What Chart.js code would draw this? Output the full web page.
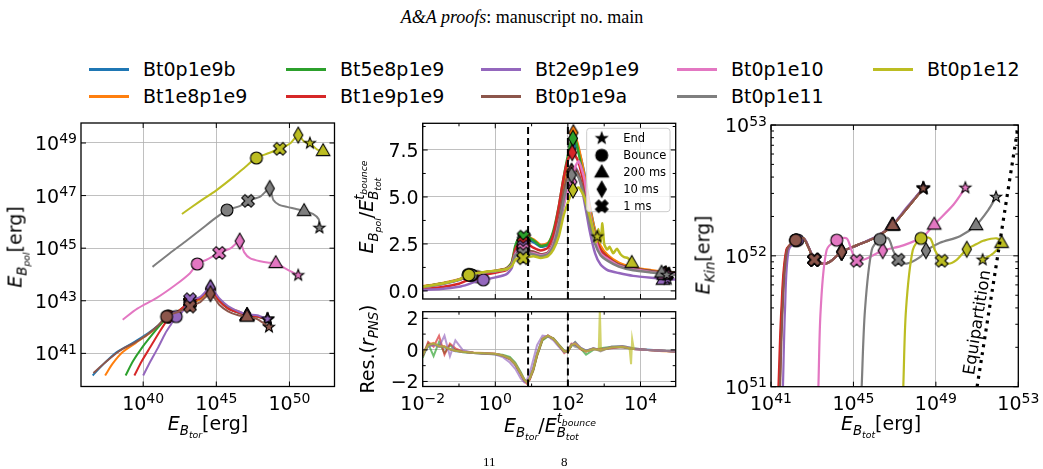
<!DOCTYPE html>
<html>
<head>
<meta charset="utf-8">
<script src="https://cdn.jsdelivr.net/npm/chart.js@4.4.1/dist/chart.umd.min.js"></script>
<style>
html, body { margin: 0; padding: 0; background: #fff; overflow: hidden; }
#wrap { position: relative; width: 1043px; height: 469px; font-family: "DejaVu Sans", sans-serif; color: #000; }
canvas { position: absolute; left: 0; top: 0; }
.t { position: absolute; white-space: nowrap; font-size: 19px; line-height: 1; transform: translate(-50%, -50%); z-index: 5; }
.t.r { transform: translate(-50%, -50%) rotate(-90deg); }
.t sub { font-size: 70%; vertical-align: -0.35em; line-height: 0; }
.ss { display: inline-block; vertical-align: -0.35em; font-size: 70%; line-height: 1.05; }
.ss > span { display: block; }
.ss sub { font-size: 70%; }
.head { position: absolute; left: 522px; top: 17px; transform: translate(-50%, -50%); font-family: "Liberation Serif", serif; font-size: 18px; white-space: nowrap; }
.leg { position: absolute; font-size: 19px; white-space: nowrap; line-height: 1; }
.foot { position: absolute; font-family: "Liberation Serif", serif; font-size: 13px; line-height: 1; }
</style>
</head>
<body>
<div id="wrap">
  <div class="head"><i>A&amp;A proofs</i>: manuscript no. main</div>
  <div id="legend"></div>
  <canvas id="cLeft" width="1043" height="469"></canvas>
  <canvas id="cMid" width="1043" height="469"></canvas>
  <canvas id="cRes" width="1043" height="469"></canvas>
  <canvas id="cRight" width="1043" height="469"></canvas>

  <div class="t r" style="left:16px;top:247px"><i>E</i><sub><i>B</i><sub><i>pol</i></sub></sub>[erg]</div>
  <div class="t" style="left:208px;top:424px"><i>E</i><sub><i>B</i><sub><i>tor</i></sub></sub>[erg]</div>
  <div class="t r" style="left:367px;top:207px"><i>E</i><sub><i>B</i><sub><i>pol</i></sub></sub>/<i>E</i><span class="ss"><span><i>t</i><sub><i>bounce</i></sub></span><span><i>B</i><sub><i>tot</i></sub></span></span></div>
  <div class="t r" style="left:367px;top:349px">Res.(<i>r</i><sub><i>PNS</i></sub>)</div>
  <div class="t" style="left:550px;top:426px"><i>E</i><sub><i>B</i><sub><i>tor</i></sub></sub>/<i>E</i><span class="ss"><span><i>t</i><sub><i>bounce</i></sub></span><span><i>B</i><sub><i>tot</i></sub></span></span></div>
  <div class="t r" style="left:703px;top:255px"><i>E</i><sub><i>Kin</i></sub>[erg]</div>
  <div class="t" style="left:881px;top:424px"><i>E</i><sub><i>B</i><sub><i>tot</i></sub></sub>[erg]</div>

  <div class="foot" style="left:483px;top:455px">11</div>
  <div class="foot" style="left:561px;top:455px">8</div>
</div>
<script>
// Series
const seriesNames = ['Bt0p1e9b', 'Bt1e8p1e9', 'Bt5e8p1e9', 'Bt1e9p1e9', 'Bt2e9p1e9', 'Bt0p1e9a', 'Bt0p1e10', 'Bt0p1e11', 'Bt0p1e12'];
const seriesColors = ['#1f77b4', '#ff7f0e', '#2ca02c', '#d62728', '#9467bd', '#8c564b', '#e377c2', '#7f7f7f', '#bcbd22'];

// marker points in every "Marks" array are ordered: bounce, 1 ms, 10 ms, 200 ms, end
const markShapes = ['circle', 'x', 'diamond', 'triangle', 'star'];
const markerLabels = ['End', 'Bounce', '200 ms', '10 ms', '1 ms'];
const markerLegendShapes = ['star', 'circle', 'triangle', 'diamond', 'x'];

// Left panel: log10 E_Btor, log10 E_Bpol
const leftCurves = [
  [[36.55,40.16],[37.3,40.6],[38.2,41.05],[39.3,41.4],[40.3,41.75],[41.0,42.05],[41.7,42.4],[42.5,42.62],[43.2,42.9],[43.9,43.05],[44.6,43.38],[45.2,43.0],[45.8,42.72],[46.5,42.55],[47.1,42.45],[47.8,42.4],[48.5,42.3]],
  [[37.4,40.16],[37.9,40.6],[38.6,41.05],[39.5,41.4],[40.4,41.75],[41.1,42.05],[41.7,42.4],[42.5,42.6],[43.2,42.88],[43.9,43.05],[44.6,43.4],[45.2,43.0],[45.8,42.75],[46.5,42.6],[47.1,42.45],[47.8,42.4],[48.5,42.3]],
  [[38.8,40.16],[39.3,40.7],[39.9,41.2],[40.6,41.7],[41.2,42.1],[41.7,42.4],[42.5,42.65],[43.2,42.95],[43.9,43.1],[44.6,43.45],[45.2,43.02],[45.8,42.72],[46.5,42.55],[47.1,42.45],[47.8,42.4],[48.5,42.3]],
  [[39.4,40.16],[39.9,40.7],[40.5,41.25],[41.1,41.8],[41.5,42.15],[41.8,42.4],[42.5,42.65],[43.2,42.95],[43.9,43.1],[44.6,43.45],[45.2,43.0],[45.8,42.7],[46.5,42.55],[47.1,42.45],[47.8,42.4],[48.5,42.3]],
  [[40.0,40.16],[40.5,40.7],[41.0,41.2],[41.5,41.75],[41.9,42.1],[42.26,42.4],[42.7,42.6],[43.2,43.02],[43.9,43.15],[44.6,43.5],[45.2,43.1],[45.8,42.8],[46.5,42.6],[47.1,42.48],[47.8,42.45],[48.5,42.3]],
  [[36.6,40.25],[37.5,40.7],[38.4,41.1],[39.4,41.4],[40.25,41.7],[41.0,42.05],[41.6,42.4],[42.5,42.6],[43.2,42.78],[43.9,42.95],[44.6,43.27],[45.2,42.85],[45.8,42.6],[46.5,42.45],[47.1,42.4],[47.8,42.3],[48.6,42.0]],
  [[38.6,42.28],[39.6,42.7],[40.9,43.1],[42.2,43.6],[43.2,44.05],[43.7,44.4],[44.3,44.55],[45.2,44.82],[46.0,45.0],[46.6,45.27],[46.9,44.85],[47.3,44.62],[48.0,44.5],[48.6,44.45],[49.06,44.44],[49.8,44.2],[50.6,43.97]],
  [[40.64,44.29],[41.8,44.8],[43.0,45.3],[43.9,45.69],[44.6,46.0],[45.05,46.19],[45.73,46.45],[46.6,46.6],[47.17,46.8],[48.0,46.96],[48.65,47.27],[48.9,46.83],[49.3,46.65],[49.84,46.57],[50.4,46.5],[51.0,46.42],[51.6,46.3],[52.0,46.1],[52.05,45.77]],
  [[42.65,46.3],[43.8,46.75],[45.0,47.2],[46.2,47.72],[47.0,48.1],[47.74,48.43],[48.5,48.6],[49.34,48.78],[50.07,48.99],[50.6,49.3],[51.0,49.05],[51.4,48.99],[51.9,48.75],[52.3,48.7]]
];
const leftMarks = [
  [[41.7,42.4],[43.2,42.95],[44.6,43.4],[47.1,42.45],[48.5,42.3]],
  [[41.7,42.4],[43.2,42.9],[44.6,43.4],[47.1,42.45],[48.5,42.3]],
  [[41.7,42.4],[43.2,42.95],[44.6,43.45],[47.1,42.45],[48.5,42.3]],
  [[41.8,42.4],[43.2,42.95],[44.6,43.45],[47.1,42.45],[48.5,42.3]],
  [[42.26,42.4],[43.2,43.06],[44.6,43.5],[47.1,42.45],[48.5,42.3]],
  [[41.6,42.4],[43.2,42.78],[44.6,43.27],[47.1,42.4],[48.6,42.0]],
  [[43.7,44.4],[45.2,44.82],[46.6,45.27],[49.06,44.44],[50.6,43.97]],
  [[45.73,46.45],[47.17,46.8],[48.65,47.27],[51.0,46.42],[52.05,45.77]],
  [[47.74,48.43],[49.34,48.78],[50.6,49.3],[52.3,48.7],[51.4,48.99]]
];

// Middle top panel: log10 of E_Btor / E_Btot(bounce), ratio E_Bpol / E_Btot(bounce)
const midX = [-2, -1.5, -1, -0.75, -0.5, -0.25, 0, 0.3, 0.45, 0.55, 0.65, 0.78, 0.9, 1.05, 1.25, 1.45, 1.6, 1.75, 1.88, 2.0, 2.1, 2.2, 2.3, 2.45, 2.6, 2.75, 2.9, 3.1, 3.4, 3.8, 4.3, 4.8, 5.0];
const midY = [
  [0.2,0.35,0.58,0.78,0.92,1.0,1.05,1.18,1.45,2.2,2.6,2.7,2.72,2.6,2.35,2.45,3.0,4.1,5.5,6.9,7.7,8.0,7.5,6.3,4.6,3.2,2.3,1.85,1.45,1.2,1.05,0.92,0.9],
  [0.25,0.4,0.62,0.82,0.95,1.02,1.08,1.2,1.5,2.3,2.7,2.85,2.85,2.75,2.45,2.55,3.1,4.2,5.6,7.0,8.0,8.2,7.6,6.2,4.5,3.2,2.4,1.9,1.5,1.25,1.1,0.98,0.95],
  [0.22,0.38,0.6,0.8,0.93,1.0,1.06,1.18,1.5,2.4,2.8,2.9,2.85,2.7,2.4,2.5,3.2,4.5,6.0,7.2,8.0,8.1,7.3,5.8,4.2,3.0,2.2,1.8,1.4,1.2,1.05,0.92,0.9],
  [0.1,0.2,0.38,0.58,0.76,0.88,0.97,1.1,1.4,2.2,2.5,2.55,2.5,2.3,2.15,2.3,3.0,4.5,6.0,7.0,7.3,7.2,6.8,5.6,4.0,2.9,2.2,1.8,1.4,1.2,1.05,0.92,0.9],
  [0.05,0.1,0.22,0.35,0.52,0.62,0.72,0.88,1.2,2.0,2.25,2.36,2.2,1.95,1.85,2.0,2.4,3.3,4.5,5.5,6.2,6.6,6.2,4.8,3.2,2.0,1.4,1.1,0.95,0.8,0.7,0.62,0.6],
  [0.22,0.38,0.6,0.8,0.93,1.0,1.06,1.18,1.4,2.0,2.1,2.1,2.1,2.1,1.95,2.05,2.6,3.8,5.2,6.2,6.5,6.5,6.2,5.2,3.8,2.6,2.0,1.7,1.4,1.2,1.05,0.92,0.9],
  [0.2,0.36,0.6,0.8,0.92,1.0,1.05,1.15,1.4,1.95,2.15,2.2,2.05,2.0,1.9,2.0,2.5,3.6,4.6,5.3,5.8,6.6,6.9,6.0,4.2,2.8,2.0,1.7,1.35,1.15,1.0,0.9,0.88],
  [0.2,0.36,0.6,0.8,0.92,1.0,1.05,1.15,1.35,1.9,2.0,2.0,2.0,1.95,1.85,1.95,2.4,3.5,4.8,5.8,6.2,6.3,6.0,5.0,3.6,2.5,1.9,1.6,1.3,1.1,0.98,0.88,0.85]
];
const midOliveX = [-2,-1.5,-1,-0.75,-0.5,-0.25,0,0.3,0.45,0.55,0.65,0.78,0.9,1.05,1.25,1.45,1.6,1.75,1.88,2.0,2.1,2.2,2.3,2.45,2.6,2.7,2.78,2.84,2.9,2.95,3.0,3.08,3.15,3.25,3.35,3.45,3.55,3.65,3.76];
const midOliveY = [0.22,0.38,0.6,0.85,0.95,1.02,1.07,1.15,1.3,1.65,1.75,1.75,1.8,1.85,1.75,1.85,2.2,2.9,4.0,4.7,5.2,5.4,5.5,5.0,4.0,3.2,2.6,3.3,2.6,3.6,2.5,2.2,2.35,2.0,2.25,1.95,1.8,1.75,1.5];
const midMarks = [
  [[-0.72,0.86],[0.78,2.68],[2.13,7.7],[4.68,0.9],[4.78,0.9]],
  [[-0.73,0.86],[0.8,2.8],[2.15,8.42],[4.7,0.95],[4.8,0.92]],
  [[-0.75,0.86],[0.78,2.89],[2.14,8.12],[4.68,0.92],[4.78,0.9]],
  [[-0.5,0.76],[0.77,2.54],[2.12,7.36],[4.68,0.9],[4.78,0.9]],
  [[-0.33,0.59],[0.77,2.36],[2.1,6.35],[4.62,0.6],[4.75,0.62]],
  [[-0.65,0.84],[0.77,2.1],[2.1,6.35],[4.66,0.88],[4.78,0.9]],
  [[-0.68,0.85],[0.77,2.2],[2.12,5.8],[4.64,0.88],[4.76,0.88]],
  [[-0.66,0.85],[0.77,2.0],[2.1,6.17],[4.58,0.98],[4.72,0.85]],
  [[-0.73,0.85],[0.77,1.74],[2.14,5.37],[3.76,1.5],[2.81,2.89]]
];
const dashX = [8, 100];

// Middle bottom panel: residuals in r_PNS
const resX = [-2,-1.85,-1.7,-1.55,-1.4,-1.25,-1.1,-0.9,-0.6,-0.3,0,0.2,0.4,0.55,0.7,0.8,0.87,0.95,1.05,1.15,1.3,1.45,1.6,1.75,1.9,2.0,2.1,2.2,2.35,2.5,2.7,2.9,3.2,3.5,3.8,4.2,4.6,5.0];
const resY = [
  [-0.35,0.25,0.35,0.3,0.15,0.05,-0.08,-0.12,-0.18,-0.22,-0.26,-0.36,-0.58,-0.95,-1.55,-1.95,-2.05,-1.75,-1.1,-0.2,0.72,0.9,0.68,0.28,-0.1,-0.12,0.35,0.3,0.12,-0.05,0.08,0.02,0.12,0.18,0.05,0.02,-0.05,-0.1],
  [-0.25,0.35,0.45,0.2,0.25,0.02,-0.05,-0.1,-0.16,-0.2,-0.24,-0.33,-0.52,-0.88,-1.48,-1.9,-2.0,-1.8,-1.2,-0.35,0.65,0.88,0.72,0.32,-0.08,-0.15,0.3,0.45,0.05,-0.1,0.1,-0.05,0.18,0.15,0.08,0.0,-0.08,-0.12],
  [-0.5,0.4,-0.4,0.5,-0.2,0.3,0.0,-0.15,-0.2,-0.24,-0.28,-0.3,-0.45,-0.8,-1.4,-1.85,-2.05,-1.85,-1.3,-0.4,0.6,0.85,0.75,0.35,-0.05,-0.1,0.25,0.5,0.1,-0.3,0.0,0.1,0.2,0.25,0.1,0.0,-0.05,-0.1],
  [-0.4,0.5,0.2,0.9,-0.3,0.4,0.1,-0.1,-0.2,-0.22,-0.26,-0.38,-0.6,-0.95,-1.55,-2.0,-2.15,-1.9,-1.25,-0.35,0.68,0.92,0.7,0.3,-0.2,-0.05,0.4,0.35,0.05,-0.1,0.05,0.05,0.1,0.2,0.05,0.0,-0.05,-0.1],
  [-0.3,0.2,0.3,0.2,0.9,-0.4,0.6,0.0,-0.2,-0.25,-0.3,-0.45,-0.8,-1.2,-1.8,-2.05,-1.9,-1.45,-0.6,0.3,0.9,0.85,0.6,0.2,-0.15,-0.1,0.3,0.5,0.15,-0.05,0.1,0.0,0.2,0.25,0.1,0.0,-0.05,-0.1],
  [-0.3,0.3,0.4,0.25,0.2,0.05,-0.05,-0.12,-0.18,-0.22,-0.25,-0.35,-0.55,-0.9,-1.5,-1.9,-2.05,-1.8,-1.2,-0.3,0.7,0.9,0.7,0.3,-0.1,-0.1,0.3,0.4,0.1,-0.1,0.05,0.0,0.15,0.2,0.05,0.0,-0.05,-0.1],
  [-0.3,0.3,0.4,0.25,0.2,0.05,-0.05,-0.12,-0.18,-0.22,-0.25,-0.35,-0.55,-0.9,-1.5,-1.9,-2.05,-1.8,-1.15,-0.25,0.72,0.9,0.7,0.3,-0.1,-0.1,0.35,0.4,0.1,-0.1,0.05,0.0,0.15,0.2,0.05,0.0,-0.05,-0.1],
  [-0.28,0.32,0.38,0.22,0.18,0.04,-0.06,-0.13,-0.19,-0.23,-0.27,-0.37,-0.57,-0.92,-1.52,-1.92,-2.03,-1.78,-1.18,-0.28,0.7,0.88,0.7,0.3,-0.15,-0.1,0.35,0.2,0.1,-0.05,0.1,-0.1,0.2,0.15,0.05,0.0,-0.05,-0.1]
];
const resOliveX = [-2,-1.85,-1.7,-1.55,-1.4,-1.25,-1.1,-0.9,-0.6,-0.3,0,0.2,0.4,0.55,0.7,0.8,0.87,0.95,1.05,1.15,1.3,1.45,1.6,1.75,1.9,2.0,2.1,2.2,2.35,2.5,2.7,2.85,2.88,2.91,3.2,3.5,3.7,3.74,3.77,3.82];
const resOliveY = [-0.3,0.3,0.4,0.25,0.2,0.05,-0.05,-0.12,-0.18,-0.22,-0.25,-0.35,-0.55,-0.9,-1.5,-1.9,-2.05,-1.8,-1.2,-0.3,0.7,0.9,0.7,0.3,-0.1,-0.1,0.3,0.4,0.1,-0.1,0.05,0.0,2.6,0.0,0.15,0.2,0.1,-0.9,0.7,0.0];

// Right panel: log10 E_Btot, log10 E_Kin
const rightCurves = [
  [[41.40,50.9],[41.42,51.0],[41.54,51.586],[41.77,52.044],[42.22,52.12],[42.57,52.134],[42.81,52.07],[43.1,51.97],[43.46,51.94],[43.86,51.955],[44.43,52.03],[45.16,52.08],[46.13,52.146],[46.9,52.235],[47.58,52.36],[48.39,52.516]],
  [[41.40,50.9],[41.42,51.0],[41.54,51.586],[41.77,52.044],[42.22,52.12],[42.57,52.134],[42.81,52.07],[43.1,51.97],[43.46,51.94],[43.86,51.955],[44.43,52.03],[45.16,52.08],[46.13,52.146],[46.9,52.235],[47.58,52.36],[48.39,52.516]],
  [[41.38,50.9],[41.40,51.0],[41.53,51.586],[41.76,52.044],[42.21,52.12],[42.57,52.134],[42.81,52.07],[43.1,51.97],[43.46,51.94],[43.86,51.955],[44.43,52.03],[45.16,52.08],[46.13,52.146],[46.9,52.235],[47.58,52.36],[48.39,52.516]],
  [[41.33,50.9],[41.36,51.0],[41.5,51.586],[41.74,52.044],[42.2,52.12],[42.57,52.134],[42.81,52.07],[43.1,51.97],[43.46,51.94],[43.86,51.955],[44.43,52.03],[45.16,52.08],[46.13,52.146],[46.9,52.235],[47.58,52.36],[48.39,52.516]],
  [[41.56,50.9],[41.58,51.0],[41.68,51.586],[41.86,52.044],[42.3,52.12],[42.62,52.13],[42.85,52.06],[43.12,51.97],[43.46,51.94],[43.86,51.955],[44.43,52.03],[45.16,52.08],[46.13,52.15],[46.9,52.24],[47.58,52.37],[48.39,52.52]],
  [[41.42,50.9],[41.44,51.0],[41.56,51.586],[41.78,52.044],[42.2,52.12],[42.57,52.134],[42.81,52.07],[43.1,51.97],[43.46,51.94],[43.86,51.955],[44.43,52.03],[45.16,52.08],[46.13,52.146],[46.9,52.235],[47.58,52.36],[48.39,52.516]],
  [[43.28,50.9],[43.3,51.0],[43.41,51.586],[43.7,52.044],[44.19,52.12],[44.67,52.134],[44.91,52.04],[45.16,51.963],[45.64,51.98],[46.42,52.04],[47.42,52.08],[48.39,52.15],[48.92,52.24],[49.85,52.39],[50.43,52.52]],
  [[45.38,50.9],[45.4,51.0],[45.56,51.586],[45.89,52.044],[46.29,52.126],[46.69,52.134],[46.93,52.04],[47.18,51.97],[47.58,51.94],[48.23,51.99],[48.52,52.04],[49.2,52.1],[50.17,52.15],[50.95,52.235],[51.54,52.35],[51.92,52.45]],
  [[47.4,50.9],[47.42,51.0],[47.55,51.586],[47.88,52.044],[48.28,52.134],[48.72,52.134],[48.96,52.04],[49.28,51.963],[49.6,51.94],[50.01,51.97],[50.5,52.05],[50.98,52.09],[51.3,52.115],[51.95,52.134],[52.19,52.1],[51.79,52.02],[51.27,51.97]]
];
const rightMarks = [
  [[42.22,52.12],[43.1,51.97],[44.43,52.03],[46.9,52.235],[48.39,52.516]],
  [[42.22,52.12],[43.1,51.97],[44.43,52.03],[46.9,52.235],[48.39,52.516]],
  [[42.21,52.12],[43.1,51.97],[44.43,52.03],[46.9,52.235],[48.39,52.516]],
  [[42.2,52.12],[43.1,51.97],[44.43,52.03],[46.9,52.235],[48.39,52.516]],
  [[42.3,52.12],[43.12,51.97],[44.43,52.03],[46.9,52.24],[48.39,52.52]],
  [[42.2,52.12],[43.1,51.97],[44.43,52.03],[46.9,52.235],[48.39,52.516]],
  [[44.19,52.12],[45.16,51.963],[46.42,52.04],[48.92,52.24],[50.43,52.52]],
  [[46.29,52.126],[47.18,51.97],[48.52,52.04],[50.95,52.235],[51.92,52.45]],
  [[48.28,52.134],[49.28,51.963],[50.5,52.05],[52.19,52.1],[51.27,51.97]]
];
const equipartition = [[51, 51], [53, 53]];

// Tick labels
const leftXTicks = [40, 45, 50];
const leftYTicks = [41, 43, 45, 47, 49];
const midYTicks = [0, 2.5, 5, 7.5];
const midYMinor = [1.25, 3.75, 6.25, 8.75];
const midXTicks = [-2, 0, 2, 4];
const midXMinor = [-1, 1, 3];
const resYTicks = [-2, 0, 2];
const resYMinor = [-1, 1];
const rightXTicks = [41, 45, 49, 53];
const rightYTicks = [51, 52, 53];

const P = e => Math.pow(10, e);
const lin = v => v;
const minus = s => String(s).replace('-', '\u2212');

// ---- legend on top ----
const legend = document.getElementById('legend');
const legCols = [89, 286, 481, 677, 873];
const legRows = [69.5, 96.5];
seriesNames.forEach((name, i) => {
  const x = legCols[Math.floor(i / 2)], y = legRows[i % 2];
  const ln = document.createElement('div');
  ln.style.cssText = `position:absolute;left:${x}px;top:${y - 1.5}px;width:40px;height:3px;background:${seriesColors[i]}`;
  legend.appendChild(ln);
  const tx = document.createElement('div');
  tx.className = 'leg';
  tx.textContent = name;
  tx.style.left = (x + 54) + 'px';
  tx.style.top = (y - 10) + 'px';
  legend.appendChild(tx);
});

// ---- marker glyphs ----
const markCache = {};
function marker(shape, fill) {
  const key = shape + fill;
  if (markCache[key]) return markCache[key];
  const c = document.createElement('canvas');
  c.width = c.height = 20;
  const g = c.getContext('2d');
  g.translate(10, 10);
  g.beginPath();
  if (shape === 'circle') {
    g.arc(0, 0, 6, 0, 2 * Math.PI);
  } else if (shape === 'triangle') {
    g.moveTo(0, -7.2); g.lineTo(6.8, 4.6); g.lineTo(-6.8, 4.6); g.closePath();
  } else if (shape === 'diamond') {
    g.moveTo(0, -8); g.lineTo(4.6, 0); g.lineTo(0, 8); g.lineTo(-4.6, 0); g.closePath();
  } else if (shape === 'star') {
    for (let k = 0; k < 10; k++) {
      const r = k % 2 ? 2.4 : 5.8, t = -Math.PI / 2 + k * Math.PI / 5;
      g.lineTo(r * Math.cos(t), r * Math.sin(t));
    }
    g.closePath();
  } else {
    const w = 2.3, L = 6.6, cs = Math.SQRT1_2;
    const pts = [[-w,-L],[w,-L],[w,-w],[L,-w],[L,w],[w,w],[w,L],[-w,L],[-w,w],[-L,w],[-L,-w],[-w,-w]];
    pts.forEach(([x, y], k) => {
      const X = (x - y) * cs, Y = (x + y) * cs;
      if (k) g.lineTo(X, Y); else g.moveTo(X, Y);
    });
    g.closePath();
  }
  g.fillStyle = fill;
  g.fill();
  g.lineWidth = 1.1;
  g.strokeStyle = '#000';
  g.stroke();
  markCache[key] = c;
  return c;
}

// ---- dataset helpers ----
function toPts(list, fx, fy) {
  return list.map(([x, y]) => ({ x: fx(x), y: fy(y) }));
}
function lineDs(pts, color, width, tension) {
  return { data: pts, showLine: true, borderColor: color, borderWidth: width, pointRadius: 0, tension: tension, fill: false };
}
function markDs(pts, i) {
  return { data: pts, showLine: false, pointRadius: 6, pointHoverRadius: 6,
           pointStyle: markShapes.map(s => marker(s, seriesColors[i])) };
}

// ---- axis decoration: inward ticks, frame, 10^n labels ----
const deco = {};
const axisDeco = {
  id: 'axisDeco',
  afterDatasetsDraw(chart) {
    const d = deco[chart.canvas.id];
    const ctx = chart.ctx, a = chart.chartArea;
    const sx = chart.scales.x, sy = chart.scales.y;
    ctx.save();
    ctx.strokeStyle = '#000';
    ctx.lineWidth = 1;
    const xt = d.xMajor.map(v => [v, 5]).concat((d.xMinor || []).map(v => [v, 3]));
    const yt = d.yMajor.map(v => [v, 5]).concat((d.yMinor || []).map(v => [v, 3]));
    ctx.beginPath();
    xt.forEach(([v, len]) => {
      const p = sx.getPixelForValue(v);
      ctx.moveTo(p, a.bottom); ctx.lineTo(p, a.bottom - len);
      ctx.moveTo(p, a.top); ctx.lineTo(p, a.top + len);
    });
    yt.forEach(([v, len]) => {
      const p = sy.getPixelForValue(v);
      ctx.moveTo(a.left, p); ctx.lineTo(a.left + len, p);
      ctx.moveTo(a.right, p); ctx.lineTo(a.right - len, p);
    });
    ctx.stroke();
    ctx.lineWidth = 1.3;
    ctx.strokeRect(a.left, a.top, a.right - a.left, a.bottom - a.top);

    ctx.fillStyle = '#000';
    ctx.textAlign = 'left';
    ctx.textBaseline = 'alphabetic';
    const bigF = '19px "DejaVu Sans"', smallF = '14px "DejaVu Sans"';
    const measure = (b, e) => {
      ctx.font = bigF; const wb = ctx.measureText(b).width;
      ctx.font = smallF; const we = e ? ctx.measureText(e).width : 0;
      return [wb, we];
    };
    const put = (b, e, x0, base, wb) => {
      ctx.font = bigF; ctx.fillText(b, x0, base);
      if (e) { ctx.font = smallF; ctx.fillText(e, x0 + wb, base - 6.5); }
    };
    (d.xLabels || []).forEach(([v, b, e]) => {
      const p = sx.getPixelForValue(v);
      const [wb, we] = measure(b, e);
      put(b, e, p - (wb + we) / 2, a.bottom + 23, wb);
    });
    (d.yLabels || []).forEach(([v, b, e]) => {
      const p = sy.getPixelForValue(v);
      const [wb, we] = measure(b, e);
      put(b, e, a.left - 4 - wb - we, p + 7, wb);
    });
    ctx.restore();
  }
};

function scaleOpts(type, min, max, major) {
  return {
    type: type, min: min, max: max,
    grid: { color: '#b0b0b0', lineWidth: 0.8, drawTicks: false },
    border: { display: false },
    ticks: { display: false },
    afterBuildTicks: s => { s.ticks = major.map(v => ({ value: v })); }
  };
}

function makeChart(id, area, datasets, xs, ys, extraPlugins) {
  const W = 1043, H = 469, YW = 60, XH = 40;
  return new Chart(document.getElementById(id), {
    type: 'scatter',
    data: { datasets: datasets },
    options: {
      responsive: false, animation: false, devicePixelRatio: 1, events: [],
      layout: { padding: { left: area[0] - YW, top: area[1], right: W - area[2], bottom: H - area[3] - XH } },
      plugins: { legend: { display: false }, tooltip: { enabled: false } },
      scales: { x: Object.assign(xs, { afterFit: s => { s.height = XH; } }),
                y: Object.assign(ys, { afterFit: s => { s.width = YW; } }) }
    },
    plugins: [axisDeco].concat(extraPlugins || [])
  });
}

// ---- left panel ----
{
  const ds = [];
  leftCurves.forEach((c, i) => {
    ds.push(lineDs(toPts(c, P, P), seriesColors[i], 2, 0.25));
    ds.push(markDs(toPts(leftMarks[i], P, P), i));
  });
  ds.reverse();
  deco.cLeft = {
    xMajor: leftXTicks.map(P), yMajor: leftYTicks.map(P),
    xLabels: leftXTicks.map(e => [P(e), '10', String(e)]),
    yLabels: leftYTicks.map(e => [P(e), '10', String(e)])
  };
  makeChart('cLeft', [81, 123, 334.5, 386.5], ds,
    scaleOpts('logarithmic', P(35.75), P(53.08), leftXTicks.map(P)),
    scaleOpts('logarithmic', P(39.74), P(49.76), leftYTicks.map(P)));
}

// ---- middle top panel ----
const markLegend = {
  id: 'markLegend',
  afterDraw(chart) {
    const a = chart.chartArea, ctx = chart.ctx;
    const x0 = a.right - 89, y0 = a.top + 5, w = 83.3, h = 83.4, r = 3;
    ctx.save();
    ctx.beginPath();
    ctx.moveTo(x0 + r, y0);
    ctx.arcTo(x0 + w, y0, x0 + w, y0 + h, r);
    ctx.arcTo(x0 + w, y0 + h, x0, y0 + h, r);
    ctx.arcTo(x0, y0 + h, x0, y0, r);
    ctx.arcTo(x0, y0, x0 + w, y0, r);
    ctx.closePath();
    ctx.fillStyle = 'rgba(255,255,255,0.8)';
    ctx.fill();
    ctx.strokeStyle = '#cccccc';
    ctx.lineWidth = 1;
    ctx.stroke();
    ctx.fillStyle = '#000';
    ctx.font = '11.5px "DejaVu Sans"';
    ctx.textAlign = 'left';
    ctx.textBaseline = 'middle';
    markerLabels.forEach((t, i) => {
      const yy = y0 + 10 + i * 17;
      ctx.drawImage(marker(markerLegendShapes[i], '#000'), x0 + 15 - 10, yy - 10);
      ctx.fillText(t, x0 + 36.6, yy + 0.5);
    });
    ctx.restore();
  }
};
{
  const ds = [];
  for (let i = 0; i < 9; i++) {
    const pts = i < 8 ? midX.map((x, k) => [x, midY[i][k]]) : midOliveX.map((x, k) => [x, midOliveY[k]]);
    ds.push(lineDs(toPts(pts, P, lin), seriesColors[i], 2.5, 0.2));
    ds.push(markDs(toPts(midMarks[i], P, lin), i));
  }
  dashX.forEach(x => ds.push({ data: [{ x: x, y: -0.43 }, { x: x, y: 8.92 }], showLine: true, pointRadius: 0,
    borderColor: '#000', borderWidth: 2, borderDash: [7, 4] }));
  ds.reverse();
  deco.cMid = {
    xMajor: midXTicks.map(P), xMinor: midXMinor.map(P), yMajor: midYTicks, yMinor: midYMinor,
    yLabels: midYTicks.map(v => [v, v.toFixed(1), ''])
  };
  makeChart('cMid', [422.7, 123.3, 675.7, 299], ds,
    scaleOpts('logarithmic', P(-2), P(4.97), midXTicks.map(P)),
    scaleOpts('linear', -0.43, 8.92, midYTicks), [markLegend]);
}

// ---- middle bottom panel (residuals) ----
{
  const ds = [];
  for (let i = 0; i < 9; i++) {
    const pts = i < 8 ? resX.map((x, k) => [x, resY[i][k]]) : resOliveX.map((x, k) => [x, resOliveY[k]]);
    ds.push(lineDs(toPts(pts, P, lin), seriesColors[i] + 'aa', 2, 0));
  }
  dashX.forEach(x => ds.push({ data: [{ x: x, y: -2.32 }, { x: x, y: 2.42 }], showLine: true, pointRadius: 0,
    borderColor: '#000', borderWidth: 2, borderDash: [7, 4] }));
  ds.reverse();
  deco.cRes = {
    xMajor: midXTicks.map(P), xMinor: midXMinor.map(P), yMajor: resYTicks, yMinor: resYMinor,
    xLabels: midXTicks.map(e => [P(e), '10', minus(e)]),
    yLabels: resYTicks.map(v => [v, minus(v), ''])
  };
  makeChart('cRes', [422.7, 311.7, 675.7, 386.5], ds,
    scaleOpts('logarithmic', P(-2), P(4.97), midXTicks.map(P)),
    scaleOpts('linear', -2.32, 2.42, resYTicks));
}

// ---- right panel ----
const equiText = {
  id: 'equiText',
  afterDatasetsDraw(chart) {
    const sx = chart.scales.x, sy = chart.scales.y, ctx = chart.ctx;
    const x1 = sx.getPixelForValue(P(equipartition[0][0])), y1 = sy.getPixelForValue(P(equipartition[0][1]));
    const x2 = sx.getPixelForValue(P(equipartition[1][0])), y2 = sy.getPixelForValue(P(equipartition[1][1]));
    const ang = Math.atan2(y2 - y1, x2 - x1);
    const cx = sx.getPixelForValue(P(51.04)), cy = sy.getPixelForValue(P(51.49));
    ctx.save();
    ctx.translate(cx, cy);
    ctx.rotate(ang);
    ctx.fillStyle = '#000';
    ctx.font = '16.5px "DejaVu Sans"';
    ctx.textAlign = 'center';
    ctx.textBaseline = 'middle';
    ctx.fillText('Equipartition', 0, 0);
    ctx.restore();
  }
};
{
  const ds = [];
  rightCurves.forEach((c, i) => {
    ds.push(lineDs(toPts(c, P, P), seriesColors[i], 2.2, 0.3));
    ds.push(markDs(toPts(rightMarks[i], P, P), i));
  });
  ds.push({ data: toPts(equipartition, P, P), showLine: true, pointRadius: 0, borderColor: '#000',
            borderWidth: 3.2, borderDash: [3, 5] });
  ds.reverse();
  const minorY = [];
  [51, 52].forEach(e => { for (let m = 2; m <= 9; m++) minorY.push(m * P(e)); });
  deco.cRight = {
    xMajor: rightXTicks.map(P), yMajor: rightYTicks.map(P), yMinor: minorY,
    xLabels: rightXTicks.map(e => [P(e), '10', String(e)]),
    yLabels: rightYTicks.map(e => [P(e), '10', String(e)])
  };
  makeChart('cRight', [771, 125, 1018.3, 386.7], ds,
    scaleOpts('logarithmic', P(41), P(53), rightXTicks.map(P)),
    scaleOpts('logarithmic', P(51), P(53), rightYTicks.map(P)), [equiText]);
}
</script>
</body>
</html>
